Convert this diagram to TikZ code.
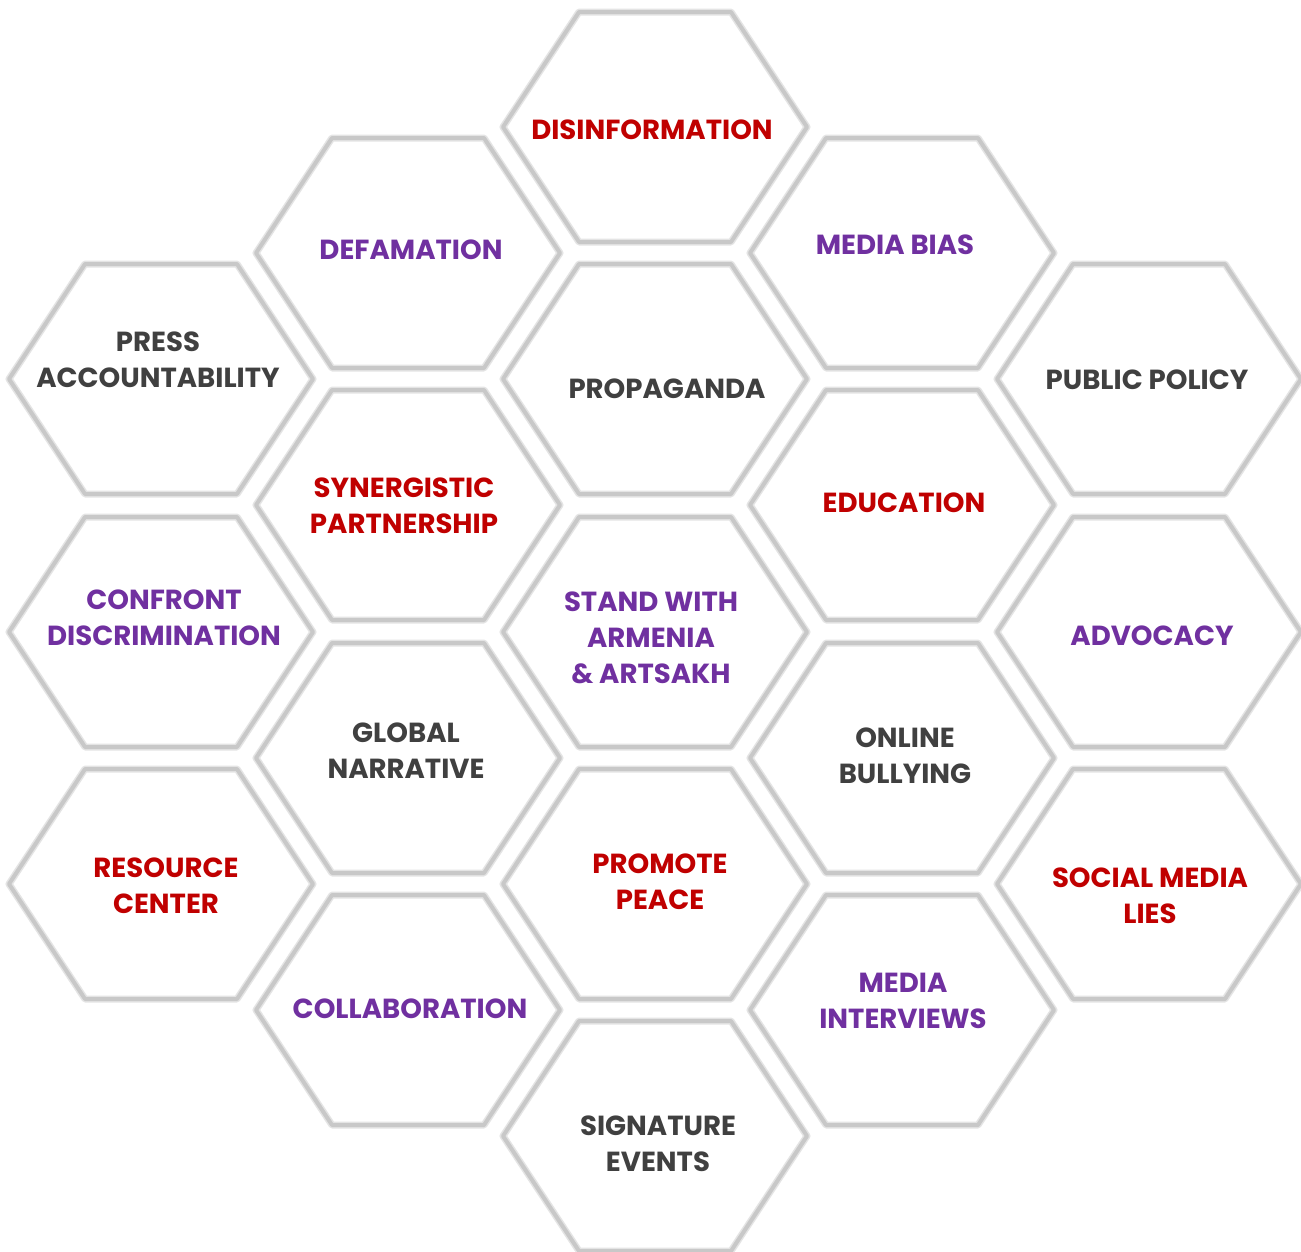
\documentclass[tikz,border=0pt]{standalone}
\usepackage{fontspec}
\setmainfont{Poppins}
\definecolor{hexline}{RGB}{200,200,200}
\definecolor{hexhalo}{RGB}{228,228,228}
\definecolor{tred}{RGB}{192,0,0}
\definecolor{tpurple}{RGB}{112,48,160}
\definecolor{tgray}{RGB}{64,64,64}
\newcommand\hexcell[2]{%
  \draw[hexhalo,line width=7pt,line join=round] (#1-152,#2) -- (#1-76,#2-115) -- (#1+76,#2-115) -- (#1+152,#2) -- (#1+76,#2+115) -- (#1-76,#2+115) -- cycle;
  \draw[hexline,line width=4pt,line join=round] (#1-152,#2) -- (#1-76,#2-115) -- (#1+76,#2-115) -- (#1+152,#2) -- (#1+76,#2+115) -- (#1-76,#2+115) -- cycle;}
\begin{document}
\begin{tikzpicture}[x=1pt,y=-1pt,
  lbl/.style={font=\bfseries\fontsize{27.6}{36}\selectfont,align=center,inner sep=0pt,anchor=center},
  red/.style={lbl,text=tred},
  pur/.style={lbl,text=tpurple},
  gry/.style={lbl,text=tgray}]
\useasboundingbox[fill=white] (0,0) rectangle (1301,1251);
% column 1
\hexcell{161}{379}
\hexcell{161}{632}
\hexcell{161}{884}
% column 2
\hexcell{408}{253}
\hexcell{408}{505}
\hexcell{408}{758}
\hexcell{408}{1010}
% column 3
\hexcell{655}{127}
\hexcell{655}{379}
\hexcell{655}{632}
\hexcell{655}{884}
\hexcell{655}{1136}
% column 4
\hexcell{902}{253}
\hexcell{902}{505}
\hexcell{902}{758}
\hexcell{902}{1010}
% column 5
\hexcell{1149}{379}
\hexcell{1149}{632}
\hexcell{1149}{884}
% labels
\node[red] (disinfo) at (652,130) {DISINFORMATION};
\node[pur] (defam) at (411,250) {DEFAMATION};
\node[pur] (bias) at (895,245) {MEDIA BIAS};
\node[gry] (press) at (158,360) {PRESS\\ACCOUNTABILITY};
\node[gry] (propa) at (667,389) {PROPAGANDA};
\node[gry] (policy) at (1147,380) {PUBLIC POLICY};
\node[red] (synerg) at (404,506) {SYNERGISTIC\\PARTNERSHIP};
\node[red] (educ) at (904,503) {EDUCATION};
\node[pur] (confront) at (164,618) {CONFRONT\\DISCRIMINATION};
\node[pur] (stand) at (651,638) {STAND WITH\\ARMENIA\\\& ARTSAKH};
\node[pur] (advoc) at (1152,636) {ADVOCACY};
\node[gry] (global) at (406,751) {GLOBAL\\NARRATIVE};
\node[gry] (online) at (905,756) {ONLINE\\BULLYING};
\node[red] (resource) at (166,886) {RESOURCE\\CENTER};
\node[red] (peace) at (660,882) {PROMOTE\\PEACE};
\node[red] (social) at (1150,896) {SOCIAL MEDIA\\LIES};
\node[pur] (collab) at (410,1009) {COLLABORATION};
\node[pur] (interv) at (903,1001) {MEDIA\\INTERVIEWS};
\node[gry] (sig) at (658,1144) {SIGNATURE\\EVENTS};
\end{tikzpicture}
\end{document}
